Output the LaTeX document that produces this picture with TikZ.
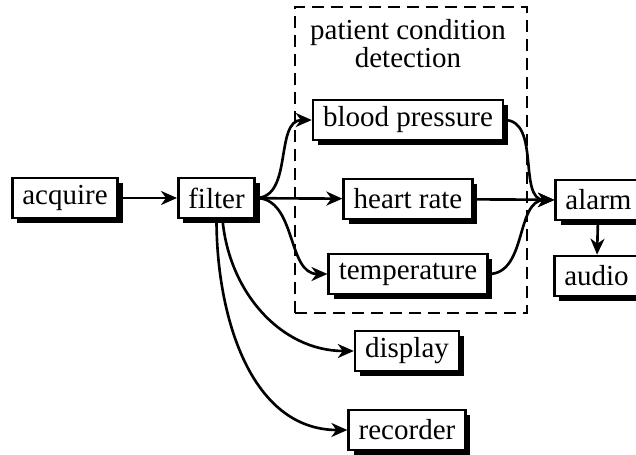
\documentclass[tikz,border=0pt]{standalone}
\usepackage{fontspec}
\setmainfont{Liberation Serif}
\usepackage{tikz}
\usetikzlibrary{positioning, shadows, arrows.meta}

\tikzset{
    block/.style={rectangle, draw=black, line width=1.5pt, fill=white,
        inner xsep=0.2cm, minimum height=0.8cm,
        font=\fontsize{16.5}{16}\selectfont,
        drop shadow={shadow xshift=0.1cm, shadow yshift=-0.1cm, fill=black, opacity=1}},
    flow/.style={line width=1.5pt, -{Stealth[length=0.32cm, width=0.28cm, inset=0.1cm]}},
    group/.style={draw=black, line width=1.4pt, dash pattern=on 0.24cm off 0.14cm}
}

\begin{document}
\begin{tikzpicture}
            \useasboundingbox (0, 0) rectangle (12.72, 9.08);

            % patient condition detection group
            \draw[group] (5.9, 2.82) rectangle (10.54, 8.94);
            \node[align=center, font=\fontsize{16.5}{16}\selectfont] (title) at (8.16, 8.2) {patient condition\\detection};

            \node[block] (acquire) at (1.30, 5.12) {acquire};
            \node[block] (filter) at (4.33, 5.12) {filter};
            \node[block] (bp) at (8.16, 6.68) {blood pressure};
            \node[block] (hr) at (8.16, 5.10) {heart rate};
            \node[block] (temp) at (8.16, 3.60) {temperature};
            \node[block] (alarm) at (11.97, 5.08) {alarm};
            \node[block] (audio) at (11.93, 3.56) {audio};
            \node[block] (display) at (8.14, 2.06) {display};
            \node[block] (recorder) at (8.14, 0.48) {recorder};

            \draw[flow] (acquire) -- (filter);
            \draw[flow] (filter.east) to[out=0, in=180] (bp.west);
            \draw[flow] (filter) -- (hr);
            \draw[flow] (filter.east) to[out=0, in=180] (temp.west);
            \draw[flow] (filter.south) ++(0.12, 0) to[out=-85, in=180] (display.west);
            \draw[flow] (filter.south) to[out=-90, in=180] (recorder.west);
            \draw[flow] (bp.east) to[out=0, in=180] (alarm.west);
            \draw[flow] (hr) -- (alarm);
            \draw[flow] (temp.east) to[out=0, in=180] (alarm.west);
            \draw[flow] (alarm) -- (audio);
        \end{tikzpicture}
\end{document}
